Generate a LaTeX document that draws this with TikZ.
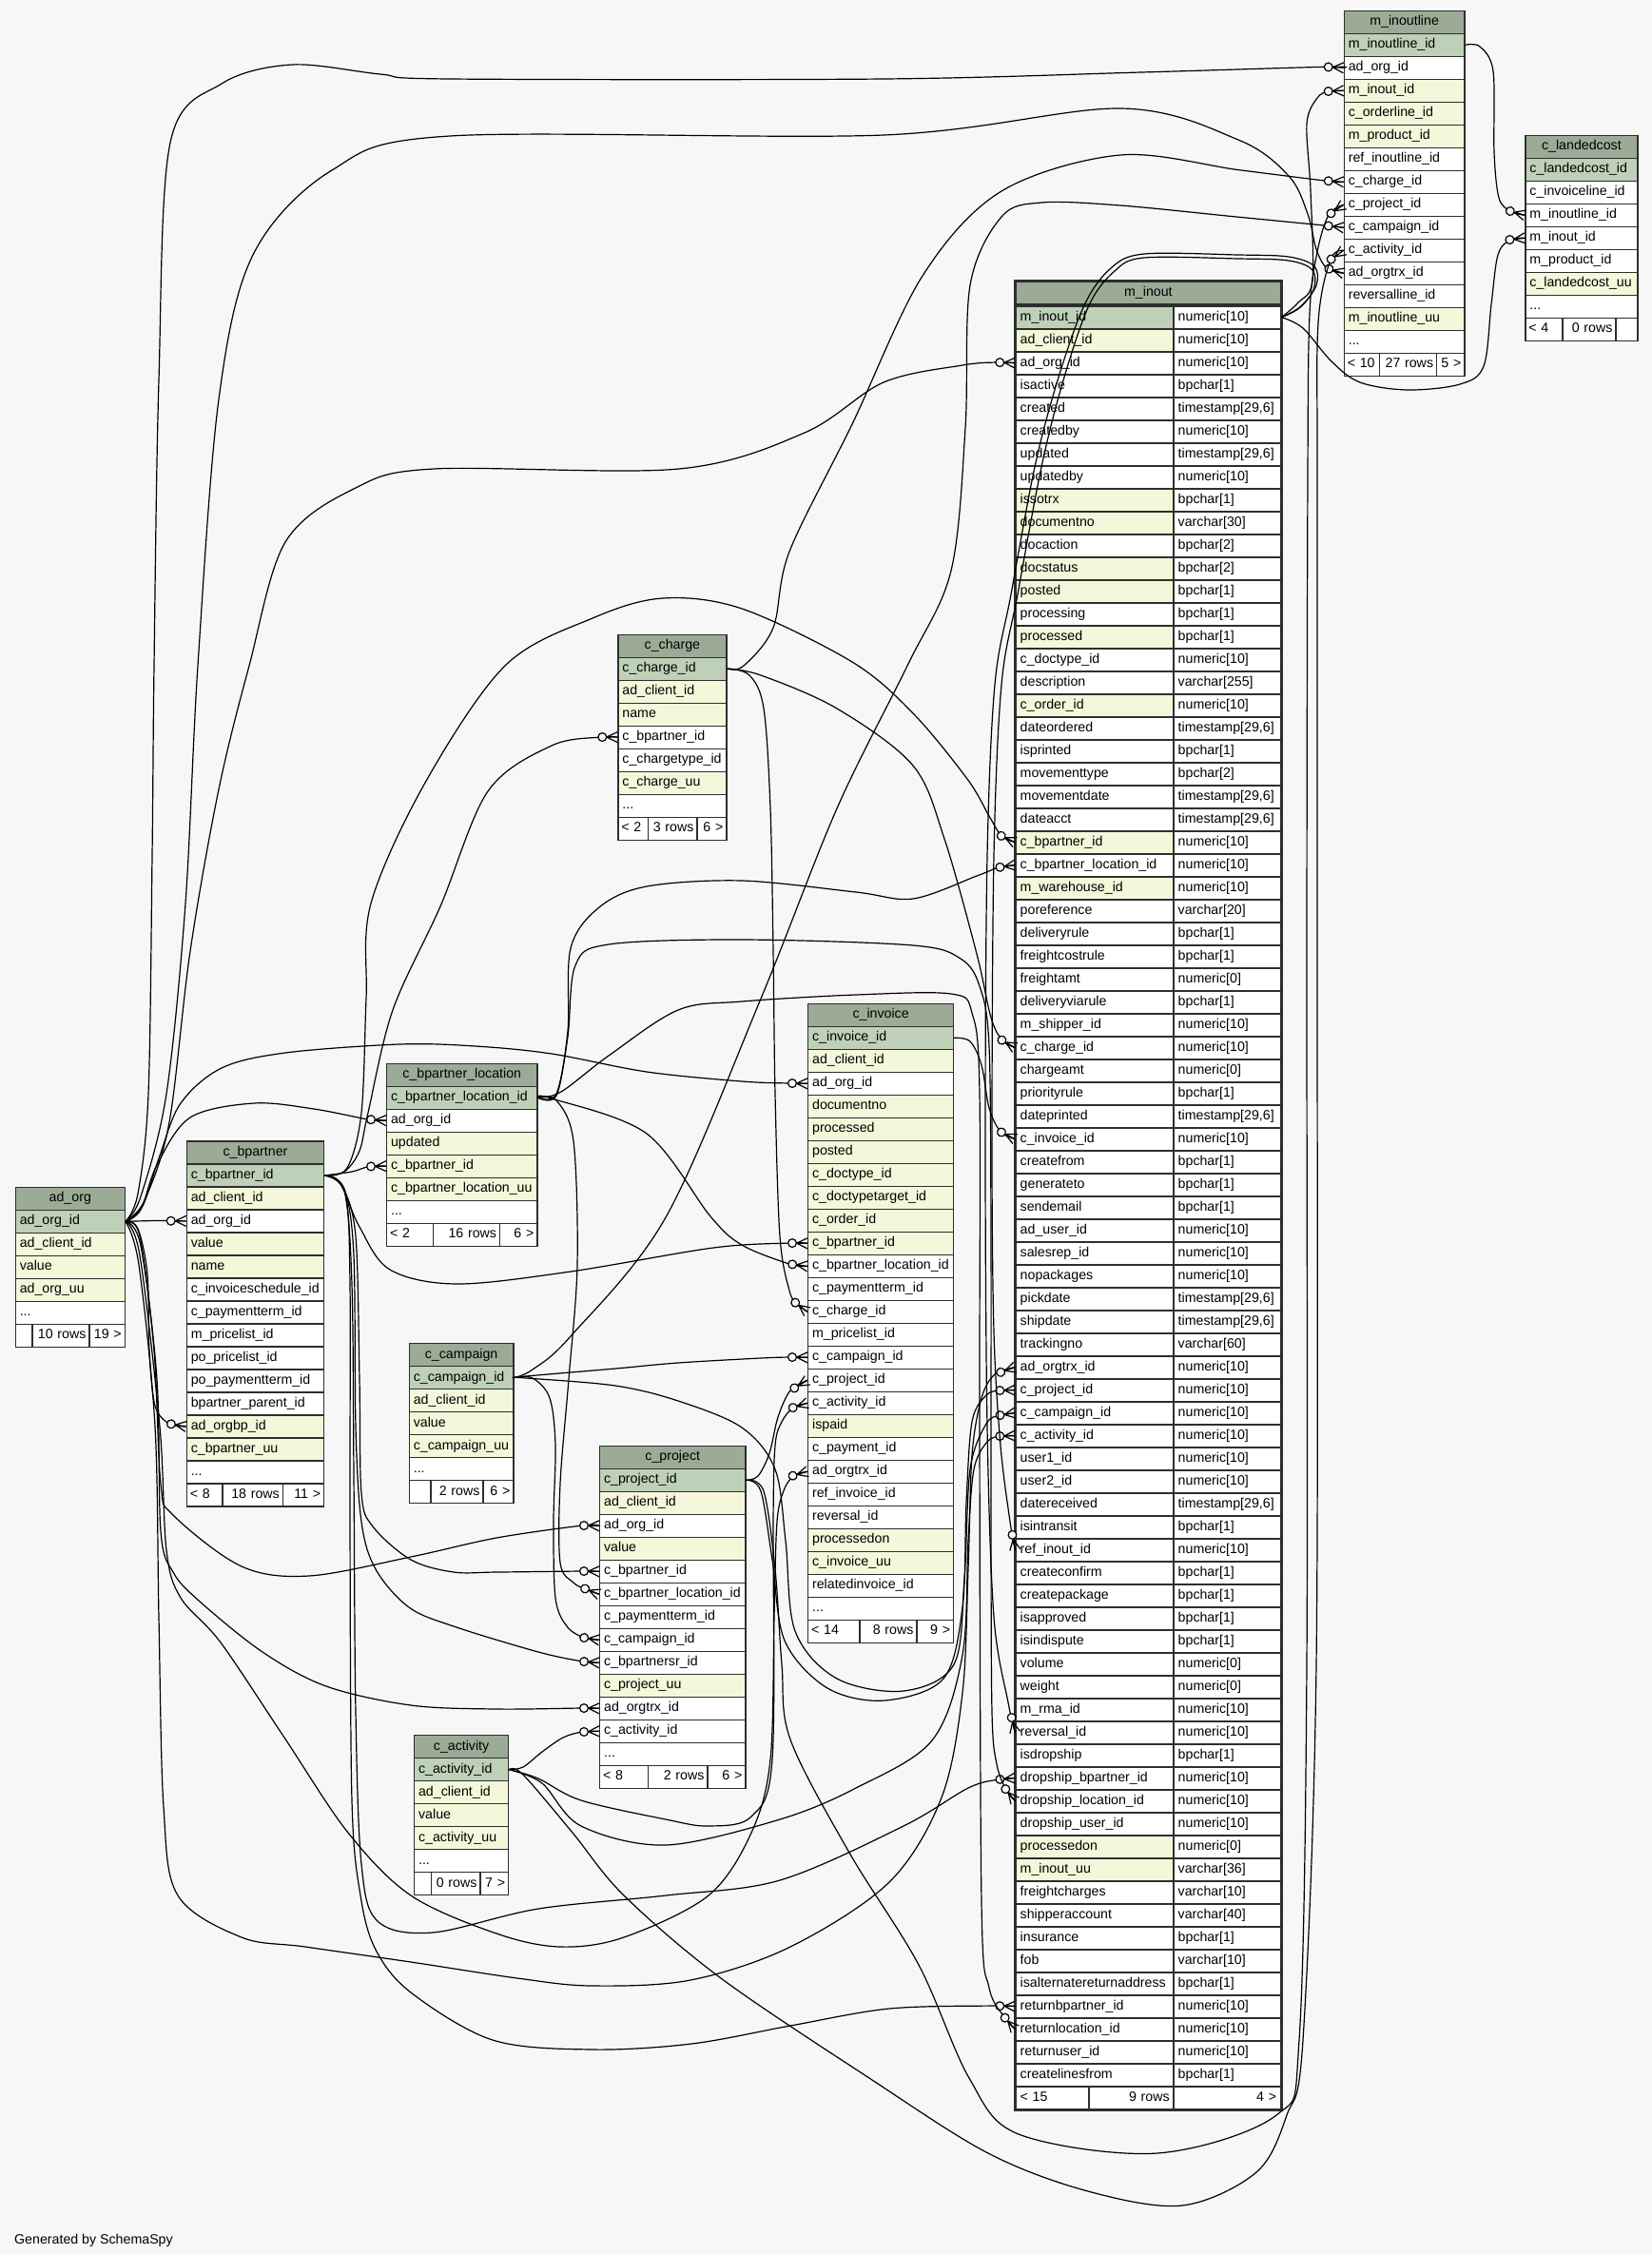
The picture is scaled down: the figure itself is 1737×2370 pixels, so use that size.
\documentclass[tikz,border=0pt]{standalone}
\usepackage{fontspec}
\setmainfont{Liberation Sans}
\usetikzlibrary{calc}
\definecolor{bg}{HTML}{F7F7F7}
\definecolor{hdr}{HTML}{9BAB96}
\definecolor{pk}{HTML}{BED1B8}
\definecolor{ix}{HTML}{F4F7DA}
\definecolor{pl}{HTML}{FFFFFF}
\definecolor{bordercol}{HTML}{2E2E2E}
\newcommand\tblfont{\fontsize{14.2}{17}\selectfont}
\tikzset{
  cell/.style={draw=bordercol, line width=1.2pt, inner xsep=4.5pt, inner ysep=0pt,
    minimum height=24pt, text height=10.5pt, text depth=3.5pt, font=\tblfont,
    anchor=north west, align=left},
  footcell/.style={cell, inner xsep=3.5pt},
  hdrbox/.style={cell, fill=hdr, align=center},
  mcell/.style={cell, line width=1.8pt},
  edge/.style={draw=black, line width=1.2pt},
  crow/.pic={
    \draw[line width=1.2pt] (0,-5.5) -- (-11.5,0) -- (0,5.5) (-11.5,0) -- (0,0);
    \draw[line width=1.2pt, fill=bg] (-16,0) circle[radius=4.4pt];
  },
}
\newcommand\mktable[6]{%
  \pgfmathsetmacro\tw{#5-9}%
  \node[hdrbox, text width=\tw pt] (#1) at (#3,#4) {#2};
  \foreach \rn/\fl [count=\i from 0] in {#6} {
    \node[cell, fill=\fl, text width=\tw pt] (#1-\rn) at (#3,{#4+24+24*\i}) {\rn};
  }%
}
\newcommand\footcells[9]{%
  \pgfmathsetmacro\fta{#5-#2-9}%
  \pgfmathsetmacro\ftb{#3-#2-7}%
  \pgfmathsetmacro\ftc{#4-#3-7}%
  \pgfmathsetmacro\ftd{#5-#4-7}%
  \node[cell, fill=pl, text width=\fta pt] (#1-more) at (#2,#6) {...};
  \node[footcell, fill=pl, text width=\ftb pt] (#1-fl) at (#2,{#6+24}) {\mbox{#7}};
  \node[footcell, fill=pl, text width=\ftc pt, align=right] (#1-fm) at (#3,{#6+24}) {\mbox{#8}};
  \node[footcell, fill=pl, text width=\ftd pt, align=right] (#1-fr) at (#4,{#6+24}) {\mbox{#9}};
}
% #1 start (parent PK), #2 intermediate points, #3 last approach point, #4 end (child FK)
\newcommand\fk[4]{%
  \draw[edge] plot[smooth, tension=0.55] coordinates {#1 #2 #3 #4};
  \path let \p1=#3, \p2=#4, \n1={atan2(\y2-\y1,\x2-\x1)} in pic[rotate=\n1] at (\p2) {crow};
}
\begin{document}
\catcode`\_=12
\begin{tikzpicture}[x=1pt,y=-1pt]
\fill[bg] (0,0) rectangle (1737,2370);
\useasboundingbox (0,0) rectangle (1737,2370);

% ---------------- tables ----------------
\mktable{ad_org}{ad_org}{15.7}{1247.7}{115}{ad_org_id/pk,ad_client_id/ix,value/ix,ad_org_uu/ix}
\footcells{ad_org}{15.7}{33.3}{93.3}{130.7}{1367.7}{}{10 rows}{19 >}

\mktable{c_bpartner}{c_bpartner}{195.7}{1199.3}{144.3}{c_bpartner_id/pk,ad_client_id/ix,ad_org_id/pl,value/ix,name/ix,c_invoiceschedule_id/pl,c_paymentterm_id/pl,m_pricelist_id/pl,po_pricelist_id/pl,po_paymentterm_id/pl,bpartner_parent_id/pl,ad_orgbp_id/ix,c_bpartner_uu/ix}
\footcells{c_bpartner}{195.7}{233.3}{296.7}{340}{1535.3}{< 8}{18 rows}{11 >}

\mktable{c_bpartner_location}{c_bpartner_location}{406}{1117.5}{158.3}{c_bpartner_location_id/pk,ad_org_id/pl,updated/ix,c_bpartner_id/ix,c_bpartner_location_uu/ix}
\footcells{c_bpartner_location}{406}{455}{525}{564.3}{1261.5}{< 2}{16 rows}{6 >}

\mktable{c_charge}{c_charge}{649.3}{666.5}{114}{c_charge_id/pk,ad_client_id/ix,name/ix,c_bpartner_id/pl,c_chargetype_id/pl,c_charge_uu/ix}
\footcells{c_charge}{649.3}{680.7}{732.3}{763.3}{834.5}{< 2}{3 rows}{6 >}

\mktable{c_invoice}{c_invoice}{849}{1054.7}{153}{c_invoice_id/pk,ad_client_id/ix,ad_org_id/pl,documentno/ix,processed/ix,posted/ix,c_doctype_id/ix,c_doctypetarget_id/ix,c_order_id/ix,c_bpartner_id/ix,c_bpartner_location_id/pl,c_paymentterm_id/pl,c_charge_id/pl,m_pricelist_id/pl,c_campaign_id/pl,c_project_id/pl,c_activity_id/pl,ispaid/ix,c_payment_id/pl,ad_orgtrx_id/pl,ref_invoice_id/pl,reversal_id/pl,processedon/ix,c_invoice_uu/ix,relatedinvoice_id/pl}
\footcells{c_invoice}{849}{903.3}{963.3}{1002}{1678.7}{< 14}{8 rows}{9 >}

\mktable{c_campaign}{c_campaign}{429.7}{1412}{109.6}{c_campaign_id/pk,ad_client_id/ix,value/ix,c_campaign_uu/ix}
\footcells{c_campaign}{429.7}{452.3}{507.3}{539.3}{1532}{}{2 rows}{6 >}

\mktable{c_project}{c_project}{630}{1519.7}{153.3}{c_project_id/pk,ad_client_id/ix,ad_org_id/pl,value/ix,c_bpartner_id/pl,c_bpartner_location_id/pl,c_paymentterm_id/pl,c_campaign_id/pl,c_bpartnersr_id/pl,c_project_uu/ix,ad_orgtrx_id/pl,c_activity_id/pl}
\footcells{c_project}{630}{680.7}{743.3}{783.3}{1831.7}{< 8}{2 rows}{6 >}

\mktable{c_activity}{c_activity}{435}{1824}{99}{c_activity_id/pk,ad_client_id/ix,value/ix,c_activity_uu/ix}
\footcells{c_activity}{435}{452.7}{504.3}{534}{1944}{}{0 rows}{7 >}

\mktable{m_inoutline}{m_inoutline}{1412.7}{10.7}{126.6}{m_inoutline_id/pk,ad_org_id/pl,m_inout_id/ix,c_orderline_id/ix,m_product_id/ix,ref_inoutline_id/pl,c_charge_id/pl,c_project_id/pl,c_campaign_id/pl,c_activity_id/pl,ad_orgtrx_id/pl,reversalline_id/pl,m_inoutline_uu/ix}
\footcells{m_inoutline}{1412.7}{1450}{1510}{1539.3}{346.7}{< 10}{27 rows}{5 >}

\mktable{c_landedcost}{c_landedcost}{1603.3}{141.7}{118}{c_landedcost_id/pk,c_invoiceline_id/pl,m_inoutline_id/pl,m_inout_id/pl,m_product_id/pl,c_landedcost_uu/ix}
\footcells{c_landedcost}{1603.3}{1642.3}{1698.3}{1721.3}{309.7}{< 4}{0 rows}{}

% m_inout (focus table)
\node[mcell, fill=hdr, align=center, text width=269.4pt] (m_inout) at (1067.3,295) {m_inout};
\foreach \rn/\ty/\fl [count=\i from 0] in {
m_inout_id/numeric[10]/pk, ad_client_id/numeric[10]/ix, ad_org_id/numeric[10]/pl,
isactive/bpchar[1]/pl, created/{timestamp[29,6]}/pl, createdby/numeric[10]/pl,
updated/{timestamp[29,6]}/pl, updatedby/numeric[10]/pl, issotrx/bpchar[1]/ix,
documentno/varchar[30]/ix, docaction/bpchar[2]/pl, docstatus/bpchar[2]/ix,
posted/bpchar[1]/ix, processing/bpchar[1]/pl, processed/bpchar[1]/ix,
c_doctype_id/numeric[10]/pl, description/varchar[255]/pl, c_order_id/numeric[10]/ix,
dateordered/{timestamp[29,6]}/pl, isprinted/bpchar[1]/pl, movementtype/bpchar[2]/pl,
movementdate/{timestamp[29,6]}/pl, dateacct/{timestamp[29,6]}/pl, c_bpartner_id/numeric[10]/ix,
c_bpartner_location_id/numeric[10]/pl, m_warehouse_id/numeric[10]/ix, poreference/varchar[20]/pl,
deliveryrule/bpchar[1]/pl, freightcostrule/bpchar[1]/pl, freightamt/numeric[0]/pl,
deliveryviarule/bpchar[1]/pl, m_shipper_id/numeric[10]/pl, c_charge_id/numeric[10]/pl,
chargeamt/numeric[0]/pl, priorityrule/bpchar[1]/pl, dateprinted/{timestamp[29,6]}/pl,
c_invoice_id/numeric[10]/pl, createfrom/bpchar[1]/pl, generateto/bpchar[1]/pl,
sendemail/bpchar[1]/pl, ad_user_id/numeric[10]/pl, salesrep_id/numeric[10]/pl,
nopackages/numeric[10]/pl, pickdate/{timestamp[29,6]}/pl, shipdate/{timestamp[29,6]}/pl,
trackingno/varchar[60]/pl, ad_orgtrx_id/numeric[10]/pl, c_project_id/numeric[10]/pl,
c_campaign_id/numeric[10]/pl, c_activity_id/numeric[10]/pl, user1_id/numeric[10]/pl,
user2_id/numeric[10]/pl, datereceived/{timestamp[29,6]}/pl, isintransit/bpchar[1]/pl,
ref_inout_id/numeric[10]/pl, createconfirm/bpchar[1]/pl, createpackage/bpchar[1]/pl,
isapproved/bpchar[1]/pl, isindispute/bpchar[1]/pl, volume/numeric[0]/pl,
weight/numeric[0]/pl, m_rma_id/numeric[10]/pl, reversal_id/numeric[10]/pl,
isdropship/bpchar[1]/pl, dropship_bpartner_id/numeric[10]/pl, dropship_location_id/numeric[10]/pl,
dropship_user_id/numeric[10]/pl, processedon/numeric[0]/ix, m_inout_uu/varchar[36]/ix,
freightcharges/varchar[10]/pl, shipperaccount/varchar[40]/pl, insurance/bpchar[1]/pl,
fob/varchar[10]/pl, isalternatereturnaddress/bpchar[1]/pl, returnbpartner_id/numeric[10]/pl,
returnlocation_id/numeric[10]/pl, returnuser_id/numeric[10]/pl, createlinesfrom/bpchar[1]/pl} {
  \node[mcell, fill=\fl, text width=157pt] (m_inout-\rn) at (1067.3,{320.7+24*\i}) {\rn};
  \node[mcell, fill=pl, text width=103.4pt] (m_inout-\rn-t) at (1233.3,{320.7+24*\i}) {\ty};
}
\node[mcell, fill=pl, text width=67.7pt] (m_inout-fl) at (1067.3,2192.7) {< 15};
\node[mcell, fill=pl, text width=80.3pt, align=right] (m_inout-fm) at (1144,2192.7) {9 rows};
\node[mcell, fill=pl, text width=103.4pt, align=right] (m_inout-fr) at (1233.3,2192.7) {4 >};
\draw[bordercol, line width=3pt] (m_inout.north west) rectangle (m_inout-fr.south east);

\node[font=\tblfont, anchor=base west, inner sep=0pt] (gen) at (15,2359) {Generated by SchemaSpy};

% ---------------- connectors ----------------
% from ad_org
\fk{(ad_org-ad_org_id.east)}{}{(165,1283.5)}{(c_bpartner-ad_org_id.west)}
\fk{(ad_org-ad_org_id.east)}{(145,1292) (155,1340) (157,1420) (163,1478)}{(178,1497)}{(c_bpartner-ad_orgbp_id.west)}
\fk{(ad_org-ad_org_id.east)}{(148,1272) (165,1225) (200,1175) (267,1160) (330,1166)}{(387,1177)}{(c_bpartner_location-ad_org_id.west)}
\fk{(ad_org-ad_org_id.east)}{(150,1268) (168,1215) (190,1160) (233,1123) (300,1107) (420,1098) (500,1100) (580,1108) (680,1127) (780,1137)}{(830,1139)}{(c_invoice-ad_org_id.west)}
\fk{(ad_org-ad_org_id.east)}{(152,1262) (178,1180) (200,1000) (230,830) (262,700) (300,570) (374,513) (456,493) (714,493) (846,455) (929,402) (1012,384)}{(1048,381)}{(m_inout-ad_org_id.west)}
\fk{(ad_org-ad_org_id.east)}{(145,1255) (156,1150) (160,900) (162,700) (167,400) (179,150) (233,88) (307,68) (400,78) (473,83) (929,83) (1200,76)}{(1393,70.3)}{(m_inoutline-ad_org_id.west)}
\fk{(ad_org-ad_org_id.east)}{(148,1258) (175,1150) (195,950) (208,700) (230,420) (266,268) (349,179) (473,143) (929,142) (1178,114) (1302,147) (1355,185) (1375,225) (1384,262)}{(1395,282)}{(m_inoutline-ad_orgtrx_id.west)}
\fk{(ad_org-ad_org_id.east)}{(147,1300) (162,1420) (169,1560) (182,1593) (254,1647) (325,1657) (432,1637) (522,1617)}{(612,1604)}{(c_project-ad_org_id.west)}
\fk{(ad_org-ad_org_id.east)}{(148,1310) (165,1450) (169,1610) (182,1653) (209,1683) (276,1737) (343,1773) (432,1793) (522,1797)}{(612,1796)}{(c_project-ad_orgtrx_id.west)}
\fk{(ad_org-ad_org_id.east)}{(147,1320) (168,1500) (175,1630) (190,1680) (232,1727) (299,1827) (366,1927) (432,1993) (522,2033) (589,2047) (656,2037) (745,1993) (790,1927) (810,1850) (814,1700) (817,1600) (825,1565)}{(836,1551)}{(c_invoice-ad_orgtrx_id.west)}
\fk{(ad_org-ad_org_id.east)}{(146,1330) (163,1500) (167,1700) (172,1900) (187,1993) (254,2037) (321,2047) (432,2063) (544,2080) (622,2088) (726,2082) (831,2047) (935,1979) (990,1890) (1012,1780) (1018,1650) (1022,1530) (1032,1470)}{(1046,1445)}{(m_inout-ad_orgtrx_id.west)}

% from c_bpartner
\fk{(c_bpartner-c_bpartner_id.east)}{(370,1232)}{(388,1226.5)}{(c_bpartner_location-c_bpartner_id.west)}
\fk{(c_bpartner-c_bpartner_id.east)}{(362,1232) (378,1210) (387,1170) (413,1062) (463,953) (513,832) (580,784)}{(632,775)}{(c_charge-c_bpartner_id.west)}
\fk{(c_bpartner-c_bpartner_id.east)}{(365,1228) (380,1170) (385,1050) (390,950) (447,823) (531,700) (623,650) (697,629) (780,640) (896,696) (960,750) (1017,819) (1040,858)}{(1053,879)}{(m_inout-c_bpartner_id.west)}
\fk{(c_bpartner-c_bpartner_id.east)}{(358,1245) (378,1290) (410,1335) (480,1350) (600,1337) (750,1312)}{(830,1307)}{(c_invoice-c_bpartner_id.west)}
\fk{(c_bpartner-c_bpartner_id.east)}{(360,1248) (374,1300) (378,1450) (380,1570) (392,1605) (432,1640) (477,1653) (522,1653)}{(612,1652)}{(c_project-c_bpartner_id.west)}
\fk{(c_bpartner-c_bpartner_id.east)}{(362,1250) (372,1320) (374,1500) (380,1600) (395,1650) (430,1690) (477,1710) (566,1737)}{(613,1747)}{(c_project-c_bpartnersr_id.west)}
\fk{(c_bpartner-c_bpartner_id.east)}{(362,1252) (370,1350) (372,1550) (374,1800) (380,1960) (397,2020) (455,2032) (566,2007) (700,1993) (820,1977) (950,1920) (1018,1880)}{(1050,1871)}{(m_inout-dropship_bpartner_id.west)}
\fk{(c_bpartner-c_bpartner_id.east)}{(363,1254) (368,1350) (368,1600) (370,1893) (379,1993) (395,2050) (432,2095) (518,2145) (622,2155) (727,2149) (831,2130) (935,2112)}{(1045,2109)}{(m_inout-returnbpartner_id.west)}

% from c_bpartner_location
\fk{(c_bpartner_location-c_bpartner_location_id.east)}{(585,1150) (597,1084) (600,997) (630,954) (680,932) (780,926) (900,938) (960,945) (1027,921)}{(1050,912)}{(m_inout-c_bpartner_location_id.west)}
\fk{(c_bpartner_location-c_bpartner_location_id.east)}{(585,1152) (597,1090) (605,1015) (640,993) (780,988) (960,994) (1010,1008) (1030,1037) (1040,1100) (1042,1300) (1042,1600) (1043,1800) (1048,1855)}{(1058,1882)}{(m_inout-dropship_location_id.west)}
\fk{(c_bpartner_location-c_bpartner_location_id.east)}{(590,1148) (640,1110) (713,1062) (780,1053) (900,1046) (1000,1045) (1022,1065) (1030,1150) (1030,1500) (1032,2000) (1040,2090)}{(1057,2122)}{(m_inout-returnlocation_id.west)}
\fk{(c_bpartner_location-c_bpartner_location_id.east)}{(580,1155) (680,1192) (747,1279) (780,1309)}{(830,1329)}{(c_invoice-c_bpartner_location_id.west)}
\fk{(c_bpartner_location-c_bpartner_location_id.east)}{(585,1157) (603,1200) (607,1330) (598,1450) (589,1560) (589,1643) (603,1664)}{(614,1670)}{(c_project-c_bpartner_location_id.west)}

% from c_charge
\fk{(c_charge-c_charge_id.east)}{(782,700) (813,660) (830,580) (896,446) (970,290) (1053,201) (1178,163) (1302,178.6)}{(1393,190)}{(m_inoutline-c_charge_id.west)}
\fk{(c_charge-c_charge_id.east)}{(800,710) (880,745) (960,805) (993,882) (1027,1003) (1042,1070)}{(1054,1094)}{(m_inout-c_charge_id.west)}
\fk{(c_charge-c_charge_id.east)}{(788,710) (803,745) (810,850) (813,1000) (815,1150) (820,1300) (830,1357)}{(838,1371)}{(c_invoice-c_charge_id.west)}

% from c_invoice
\fk{(c_invoice-c_invoice_id.east)}{(1020,1095) (1032,1120) (1040,1165)}{(1052,1190)}{(m_inout-c_invoice_id.west)}

% from c_campaign
\fk{(c_campaign-c_campaign_id.east)}{(560,1440) (600,1405) (700,1280) (800,1050) (880,850) (954,700) (1000,600) (1015,450) (1020,300) (1053,228) (1095,213) (1178,216) (1300,228)}{(1392,237)}{(m_inoutline-c_campaign_id.west)}
\fk{(c_campaign-c_campaign_id.east)}{(553,1447) (647,1439) (713,1433) (800,1428)}{(832,1427)}{(c_invoice-c_campaign_id.west)}
\fk{(c_campaign-c_campaign_id.east)}{(553,1449) (647,1457) (713,1473) (780,1501) (815,1545) (826,1620) (836,1715) (880,1765) (950,1778) (1003,1750) (1014,1660) (1020,1545) (1037,1497)}{(1052,1488)}{(m_inout-c_campaign_id.west)}
\fk{(c_campaign-c_campaign_id.east)}{(560,1449) (578,1470) (584,1520) (582,1600) (584,1680) (596,1710)}{(614,1722)}{(c_project-c_campaign_id.west)}

% from c_project
\fk{(c_project-c_project_id.east)}{(803,1568) (815,1650) (822,1750) (831,1829) (893,1948) (966,2066) (1019,2185) (1071,2244) (1217,2264) (1342,2224) (1366,2145) (1374,1750) (1374,1000) (1375,500) (1377,330) (1385,265)}{(1397,226)}{(m_inoutline-c_project_id.west)}
\fk{(c_project-c_project_id.east)}{(800,1568) (812,1640) (825,1725) (870,1775) (930,1788) (992,1765) (1012,1690) (1016,1580) (1022,1495) (1037,1467)}{(1052,1462)}{(m_inout-c_project_id.west)}
\fk{(c_project-c_project_id.east)}{(797,1552) (809,1528) (818,1490)}{(831,1462)}{(c_invoice-c_project_id.west)}

% from c_activity
\fk{(c_activity-c_activity_id.east)}{(550,1866) (602,1927) (656,1993) (758,2080) (914,2185) (1039,2264) (1144,2304) (1243,2319) (1321,2284) (1353,2224) (1370,2145) (1384,1750) (1385,1000) (1385,500) (1386,340)}{(1399,273)}{(m_inoutline-c_activity_id.west)}
\fk{(c_activity-c_activity_id.east)}{(566,1870) (611,1893) (700,1913) (745,1920) (790,1910) (812,1850) (813,1600) (815,1520) (822,1495)}{(834,1480)}{(c_invoice-c_activity_id.west)}
\fk{(c_activity-c_activity_id.east)}{(570,1875) (611,1920) (700,1940) (820,1913) (900,1880) (980,1830) (1012,1740) (1018,1620) (1024,1545) (1038,1516)}{(1052,1510)}{(m_inout-c_activity_id.west)}
\fk{(c_activity-c_activity_id.east)}{(550,1858) (570,1842) (592,1827)}{(612,1821)}{(c_project-c_activity_id.west)}

% from m_inout
\fk{(m_inout-m_inout_id-t.east)}{(1365,318) (1380,295) (1378,200) (1374,130) (1385,103)}{(1397,96)}{(m_inoutline-m_inout_id.west)}
\fk{(m_inout-m_inout_id-t.east)}{(1370,345) (1400,380) (1430,402) (1480,410) (1535,404) (1560,385) (1568,320) (1575,268)}{(1588,252)}{(c_landedcost-m_inout_id.west)}
\fk{(m_inout-m_inout_id-t.east)}{(1366,324) (1381,305) (1380,284) (1355,274) (1302,272) (1203,271) (1172,285) (1145,321) (1118,400) (1095,491) (1070,625) (1053,720) (1045,900) (1043,1200) (1045,1400) (1052,1520)}{(1062,1600)}{(m_inout-ref_inout_id.west)}
\fk{(m_inout-m_inout_id-t.east)}{(1368,322) (1384,300) (1382,280) (1355,270) (1302,268) (1203,267) (1168,282) (1140,321) (1112,400) (1088,491) (1063,625) (1046,720) (1038,900) (1036,1200) (1038,1500) (1045,1700)}{(1060,1790)}{(m_inout-reversal_id.west)}

% from m_inoutline
\fk{(m_inoutline-m_inoutline_id.east)}{(1556,49) (1570,75) (1571,160) (1576,208)}{(1588,222)}{(c_landedcost-m_inoutline_id.west)}
\end{tikzpicture}
\end{document}
